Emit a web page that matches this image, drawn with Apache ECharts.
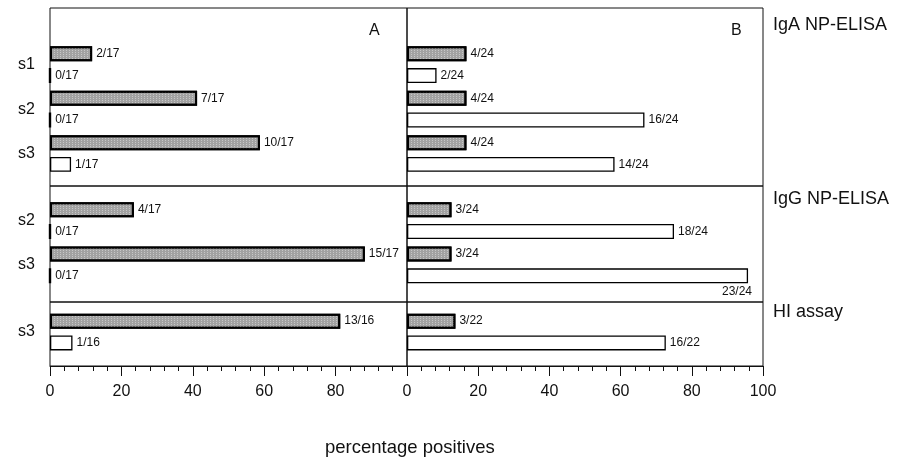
<!DOCTYPE html>
<html><head><meta charset="utf-8">
<script src="https://cdn.jsdelivr.net/npm/echarts@6/dist/echarts.min.js"></script>
<style>html,body{margin:0;padding:0;background:#fff}#c{width:898px;height:461px}</style>
</head><body><div id="c"></div><script>
// ---- data ----
const sectionNames = ['IgA NP-ELISA', 'IgG NP-ELISA', 'HI assay'];
const panelNames = ['A', 'B'];
const catsIgA = ['s1', 's2', 's3'];
const catsIgG = ['s2', 's3'];
const catsHI = ['s3'];
// Panel A (percentage positives)
const aIgAGray = [11.8, 41.2, 58.8];
const aIgAGrayLbl = ['2/17', '7/17', '10/17'];
const aIgAWhite = [0, 0, 5.9];
const aIgAWhiteLbl = ['0/17', '0/17', '1/17'];
const aIgGGray = [23.5, 88.2];
const aIgGGrayLbl = ['4/17', '15/17'];
const aIgGWhite = [0, 0];
const aIgGWhiteLbl = ['0/17', '0/17'];
const aHIGray = [81.3];
const aHIGrayLbl = ['13/16'];
const aHIWhite = [6.3];
const aHIWhiteLbl = ['1/16'];
// Panel B
const bIgAGray = [16.7, 16.7, 16.7];
const bIgAGrayLbl = ['4/24', '4/24', '4/24'];
const bIgAWhite = [8.3, 66.7, 58.3];
const bIgAWhiteLbl = ['2/24', '16/24', '14/24'];
const bIgGGray = [12.5, 12.5];
const bIgGGrayLbl = ['3/24', '3/24'];
const bIgGWhite = [75.0, 95.8];
const bIgGWhiteLbl = ['18/24', '23/24'];
const bHIGray = [13.6];
const bHIGrayLbl = ['3/22'];
const bHIWhite = [72.7];
const bHIWhiteLbl = ['16/22'];
const xTickLabels = [0, 20, 40, 60, 80, 100];
const xTitle = 'percentage positives';

// ---- layout ----
const FONT = 'Liberation Sans, Arial, sans-serif';
const panels = [{left: 50, width: 357}, {left: 407, width: 356}];
const frames = [[8, 178], [186, 116], [302, 64]];
const barAreas = [[42.5, 133.2], [198.5, 88.6], [309.8, 44.4]];
const cats = [catsIgA, catsIgG, catsHI];
const data = [
  [[aIgAGray, aIgAGrayLbl, aIgAWhite, aIgAWhiteLbl], [bIgAGray, bIgAGrayLbl, bIgAWhite, bIgAWhiteLbl]],
  [[aIgGGray, aIgGGrayLbl, aIgGWhite, aIgGWhiteLbl], [bIgGGray, bIgGGrayLbl, bIgGWhite, bIgGWhiteLbl]],
  [[aHIGray, aHIGrayLbl, aHIWhite, aHIWhiteLbl], [bHIGray, bHIGrayLbl, bHIWhite, bHIWhiteLbl]]
];

const grid = [], xAxis = [], yAxis = [], series = [];
// frame grids
for (let s = 0; s < 3; s++) for (let p = 0; p < 2; p++) {
  const idx = grid.length;
  grid.push({left: panels[p].left, width: panels[p].width, top: frames[s][0], height: frames[s][1],
    show: true, borderColor: '#111', borderWidth: 1, backgroundColor: 'transparent', z: 0});
  const bottom = s === 2;
  xAxis.push({type: 'value', gridIndex: idx, min: 0, max: 100, interval: 20, show: bottom,
    axisLine: {show: true, lineStyle: {color: '#111', width: 1}},
    axisTick: {show: true, length: 10, lineStyle: {color: '#111'}},
    minorTick: {show: true, splitNumber: 5, length: 5, lineStyle: {color: '#111'}},
    splitLine: {show: false}, minorSplitLine: {show: false},
    axisLabel: {show: true, fontSize: 16, fontFamily: FONT, color: '#111', margin: 18,
      formatter: v => (p === 0 && v === 100) ? '' : String(xTickLabels[xTickLabels.indexOf(v)])}});
  yAxis.push({type: 'value', gridIndex: idx, show: false, min: 0, max: 1});
}
// bar grids
for (let s = 0; s < 3; s++) for (let p = 0; p < 2; p++) {
  const idx = grid.length;
  grid.push({left: panels[p].left, width: panels[p].width, top: barAreas[s][0], height: barAreas[s][1]});
  xAxis.push({type: 'value', gridIndex: idx, min: 0, max: 100, show: false});
  yAxis.push({type: 'category', gridIndex: idx, data: cats[s], inverse: true, show: p === 0,
    axisLine: {show: false}, axisTick: {show: false},
    axisLabel: {fontSize: 16, fontFamily: FONT, color: '#111', margin: 15}});
  const [g, gl, w, wl] = data[s][p];
  series.push({type: 'bar', xAxisIndex: idx, yAxisIndex: idx, barWidth: 15, barGap: '45%',
    data: g.map((v, i) => ({value: v, lbl: gl[i]})),
    itemStyle: {color: '#a2a2a2', borderColor: '#000', borderWidth: 2,
      decal: {symbol: 'rect', symbolSize: 1, color: 'rgba(255,255,255,0.4)', dashArrayX: [1, 2], dashArrayY: [1, 1]}},
    label: {show: true, position: 'right', distance: 4, fontSize: 12, fontFamily: FONT, color: '#111',
      formatter: prm => prm.data.lbl}});
  series.push({type: 'bar', xAxisIndex: idx, yAxisIndex: idx, barWidth: 15, barGap: '45%',
    data: w.map((v, i) => {
      const item = {value: v, lbl: wl[i]};
      if (v === 0) item.itemStyle = {borderWidth: 2.4};
      if (v > 90) item.label = {position: ['100%', '100%'], align: 'right', verticalAlign: 'top', offset: [4, 2]};
      return item;
    }),
    itemStyle: {color: '#fff', borderColor: '#000', borderWidth: 1.3},
    label: {show: true, position: 'right', distance: 4, fontSize: 12, fontFamily: FONT, color: '#111',
      formatter: prm => prm.data.lbl}});
}

const sectionY = [26, 200, 313];
const graphic = [];
sectionNames.forEach((n, i) => graphic.push({type: 'text', left: 773, top: sectionY[i] - 10,
  style: {text: n, fontSize: 18, fontFamily: FONT, fill: '#111'}}));
graphic.push({type: 'text', left: 369, top: 23, style: {text: panelNames[0], fontSize: 16, fontFamily: FONT, fill: '#111'}});
graphic.push({type: 'text', left: 731, top: 23, style: {text: panelNames[1], fontSize: 16, fontFamily: FONT, fill: '#111'}});
graphic.push({type: 'text', left: 325, top: 438, style: {text: xTitle, fontSize: 18.5, fontFamily: FONT, fill: '#111'}});

const chart = echarts.init(document.getElementById('c'), null, {renderer: 'canvas'});
chart.setOption({animation: false, backgroundColor: '#fff', grid, xAxis, yAxis, series, graphic});
</script></body></html>
